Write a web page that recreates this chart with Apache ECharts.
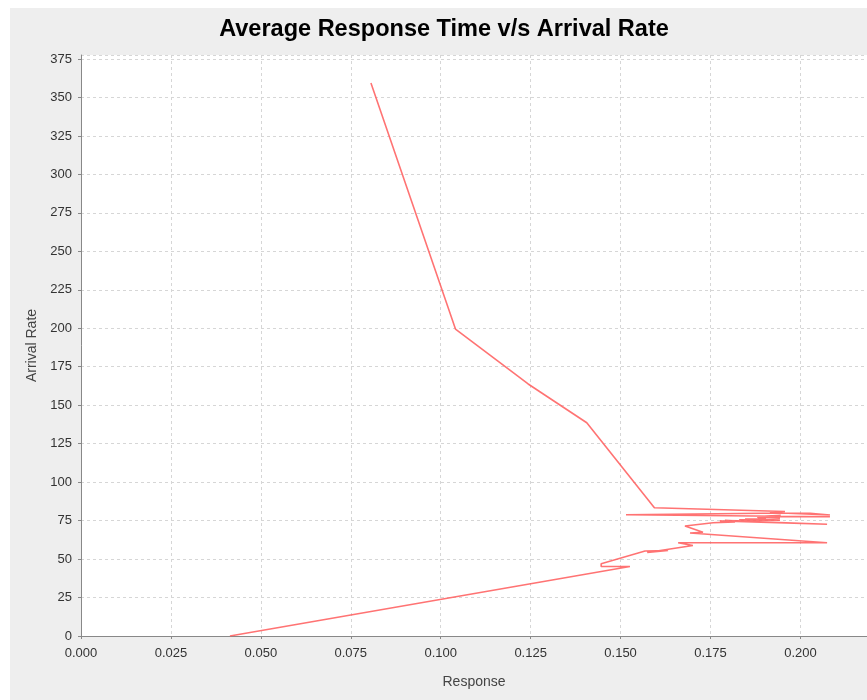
<!DOCTYPE html>
<html><head><meta charset="utf-8">
<script src="https://cdn.jsdelivr.net/npm/echarts@6/dist/echarts.min.js"></script>
<style>html,body{margin:0;padding:0;background:#fff;}#c{position:absolute;left:10px;top:8px;width:857px;height:692px;background:#eeeeee;}</style>
</head><body><div id="c"></div>
<script>
const chartTitle = 'Average Response Time v/s Arrival Rate';
const xName = 'Response';
const yName = 'Arrival Rate';
const response = [0.0806, 0.1041, 0.1243, 0.1406, 0.1594, 0.1957, 0.1915, 0.2082, 0.2027, 0.1957,
  0.1515, 0.2082, 0.1930, 0.1945, 0.1900, 0.1943, 0.1880, 0.1904, 0.1846, 0.1943,
  0.1830, 0.1865, 0.1790, 0.2074, 0.1776, 0.1818, 0.1757, 0.1679, 0.1729, 0.1693,
  0.2074, 0.1660, 0.1701, 0.1574, 0.1632, 0.1568, 0.1446, 0.1446, 0.1526, 0.0414];
const arrival = [359.4, 199.5, 163.8, 138.6, 83.4, 80.9, 80.3, 78.6, 79.7, 79.9,
  78.8, 77.5, 77.6, 78.4, 77.8, 76.5, 77.2, 76.2, 76.0, 75.3,
  75.5, 74.7, 75.0, 72.6, 74.7, 74.2, 73.6, 71.5, 67.4, 66.9,
  60.6, 60.6, 58.8, 54.3, 55.6, 55.2, 47.0, 45.2, 45.2, 0];
const xMin = 0, xMax = 0.2185, xStep = 0.025;
const yMin = 0, yMax = 377.6, yStep = 25;

const chart = echarts.init(document.getElementById('c'), null, {renderer: 'canvas'});
const font = 'Liberation Sans, Arial, sans-serif';
const points = response.map((r, i) => [r, arrival[i]]);
chart.setOption({
  animation: false,
  backgroundColor: 'transparent',
  graphic: [{
    type: 'text', x: 434, y: 9, scaleX: 0.98, originX: 0,
    style: {text: chartTitle, fill: '#000', align: 'center', verticalAlign: 'top',
      font: 'bold 24px "Liberation Sans", Arial, sans-serif'}
  }],
  grid: {left: 71, top: 47, right: 0, bottom: 64, backgroundColor: '#ffffff', show: true, borderWidth: 0, outerBoundsMode: 'none'},
  xAxis: {
    type: 'value', min: xMin, max: xMax, interval: xStep,
    name: xName, nameLocation: 'middle', nameGap: 39,
    nameTextStyle: {fontFamily: font, fontSize: 14, color: '#444'},
    axisLine: {show: true, lineStyle: {color: '#888', width: 1}},
    axisTick: {show: true, length: 3, lineStyle: {color: '#888'}},
    axisLabel: {showMaxLabel: false, margin: 11, fontFamily: font, fontSize: 13, color: '#333',
      formatter: v => v.toFixed(3)},
    splitLine: {show: true, lineStyle: {color: '#d6d6d6', type: [3, 3], width: 1}}
  },
  yAxis: {
    type: 'value', min: yMin, max: yMax, interval: yStep,
    name: yName, nameLocation: 'middle', nameGap: 42,
    nameTextStyle: {fontFamily: font, fontSize: 14, color: '#444'},
    axisLine: {show: true, lineStyle: {color: '#888', width: 1}},
    axisTick: {show: true, length: 3, lineStyle: {color: '#888'}},
    axisLabel: {showMaxLabel: false, margin: 9, fontFamily: font, fontSize: 13, color: '#333'},
    splitLine: {show: true, lineStyle: {color: '#d6d6d6', type: [3, 3], width: 1}}
  },
  series: [{
    type: 'line', data: points, showSymbol: false, symbol: 'none',
    lineStyle: {color: '#ff5a5a', width: 1.6, opacity: 0.85}
  }]
});
</script></body></html>
